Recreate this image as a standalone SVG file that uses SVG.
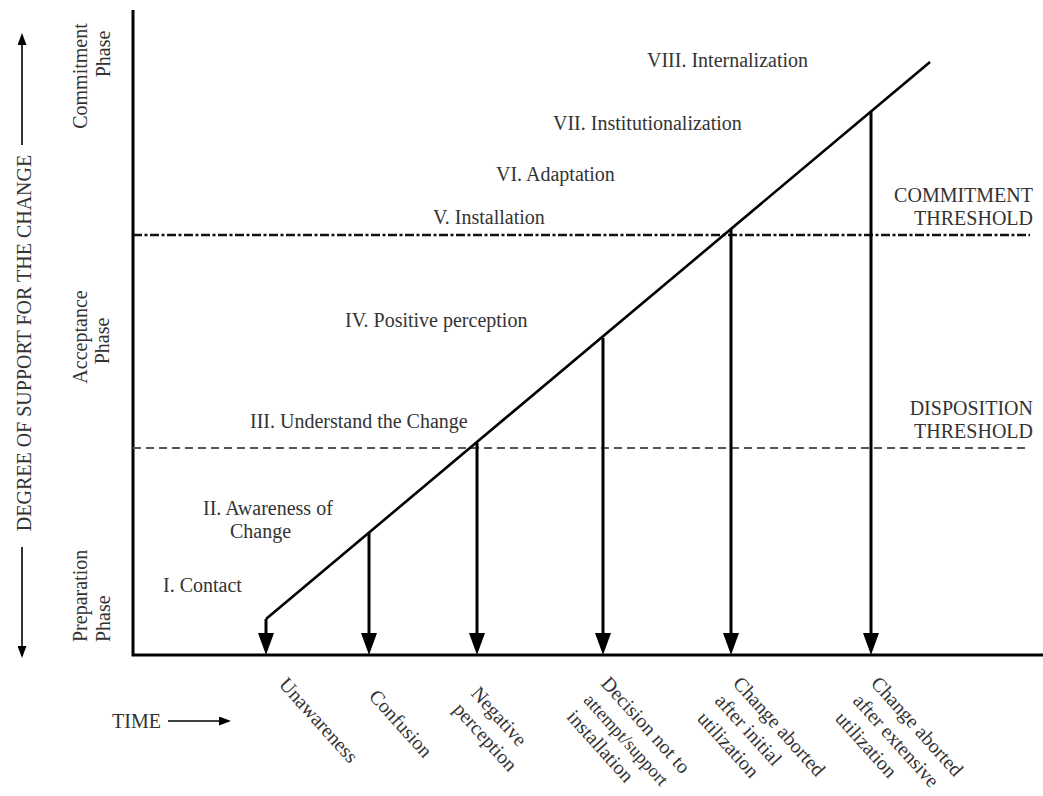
<svg xmlns="http://www.w3.org/2000/svg" width="1043" height="796" viewBox="0 0 1043 796">
  <defs>
    <style>
      text { font-family: "Liberation Serif", "Times New Roman", serif; font-size: 20px; fill: #333; }
      .axis { stroke: #000; stroke-width: 3; fill: none; }
      .drop { stroke: #000; stroke-width: 3; fill: none; marker-end: url(#head); }
      .path { stroke: #000; stroke-width: 2.6; fill: none; stroke-linejoin: round; }
      .thin-arrow { stroke: #000; stroke-width: 1.6; fill: none; marker-end: url(#small); }
      .commit { stroke: #111; stroke-width: 2.4; stroke-dasharray: 9 2.5 3 2.5; fill: none; }
      .dispo { stroke: #555; stroke-width: 2; stroke-dasharray: 8 5; fill: none; }
    </style>
    <marker id="head" markerUnits="userSpaceOnUse" markerWidth="22" markerHeight="16" viewBox="0 0 22 16" refX="12" refY="8" orient="auto">
      <path d="M0,0 L22,8 L0,16 Z" fill="#000"/>
    </marker>
    <marker id="small" markerUnits="userSpaceOnUse" markerWidth="12" markerHeight="9" viewBox="0 0 12 9" refX="10" refY="4.5" orient="auto">
      <path d="M0,0 L12,4.5 L0,9 Z" fill="#000"/>
    </marker>
  </defs>

  <rect width="1043" height="796" fill="#fff"/>

  <!-- axes -->
  <g id="axes">
    <path class="axis" d="M133,10 V656.5 M131.5,655 H1043"/>
    <text transform="translate(31,343) rotate(-90)" text-anchor="middle">DEGREE OF SUPPORT FOR THE CHANGE</text>
    <path class="thin-arrow" d="M22,145 V35"/>
    <path class="thin-arrow" d="M22,547 V656"/>
    <text x="112" y="728" font-size="17">TIME</text>
    <path class="thin-arrow" d="M168,721 H229"/>
  </g>

  <!-- phase bands on the vertical axis -->
  <g id="phase-commitment">
    <text transform="translate(87,76) rotate(-90)" text-anchor="middle">Commitment</text>
    <text transform="translate(110,54) rotate(-90)" text-anchor="middle">Phase</text>
  </g>
  <g id="phase-acceptance">
    <text transform="translate(87,337) rotate(-90)" text-anchor="middle">Acceptance</text>
    <text transform="translate(109,341) rotate(-90)" text-anchor="middle">Phase</text>
  </g>
  <g id="phase-preparation">
    <text transform="translate(87,642) rotate(-90)">Preparation</text>
    <text transform="translate(110,642) rotate(-90)">Phase</text>
  </g>

  <!-- thresholds -->
  <g id="commitment-threshold">
    <path class="commit" d="M133,235 H1030"/>
    <text x="1033" y="202" text-anchor="end">COMMITMENT</text>
    <text x="1033" y="225" text-anchor="end">THRESHOLD</text>
  </g>
  <g id="disposition-threshold">
    <path class="dispo" d="M133,448 H1030"/>
    <text x="1033" y="415" text-anchor="end">DISPOSITION</text>
    <text x="1033" y="438" text-anchor="end">THRESHOLD</text>
  </g>

  <!-- stages along the rising path -->
  <g id="stage-1"><text x="163" y="592">I. Contact</text></g>
  <g id="stage-2">
    <text x="203" y="515">II. Awareness of</text>
    <text x="230" y="538">Change</text>
  </g>
  <g id="stage-3"><text x="250" y="428">III. Understand the Change</text></g>
  <g id="stage-4"><text x="345" y="327">IV. Positive perception</text></g>
  <g id="stage-5"><text x="433" y="224">V. Installation</text></g>
  <g id="stage-6"><text x="496" y="181">VI. Adaptation</text></g>
  <g id="stage-7"><text x="553" y="130">VII. Institutionalization</text></g>
  <g id="stage-8"><text x="647" y="67">VIII. Internalization</text></g>

  <!-- outcomes below the time axis -->
  <g id="outcome-unawareness">
    <text transform="translate(278,685) rotate(48)">Unawareness</text>
  </g>
  <g id="outcome-confusion">
    <text transform="translate(368,697) rotate(48)">Confusion</text>
  </g>
  <g id="outcome-negative">
    <text transform="translate(470,694) rotate(48)"><tspan x="0" y="0">Negative</tspan><tspan x="0" y="24">perception</tspan></text>
  </g>
  <g id="outcome-decision">
    <text transform="translate(600,684) rotate(48)"><tspan x="0" y="0">Decision not to</tspan><tspan x="1" y="24" font-size="18.5">attempt/support</tspan><tspan x="2" y="48">installation</tspan></text>
  </g>
  <g id="outcome-aborted-initial">
    <text transform="translate(732,684) rotate(48)"><tspan x="0" y="0">Change aborted</tspan><tspan x="1" y="25">after initial</tspan><tspan x="2" y="50">utilization</tspan></text>
  </g>
  <g id="outcome-aborted-extensive">
    <text transform="translate(870,684) rotate(48)"><tspan x="0" y="0">Change aborted</tspan><tspan x="1" y="25">after extensive</tspan><tspan x="2" y="50">utilization</tspan></text>
  </g>

  <!-- connectors: the rising support path and the drop-outs to the time axis -->
  <g id="connectors">
    <path class="path" d="M266,619 L930,62"/>
    <path class="drop" d="M266,619 V645"/>
    <path class="drop" d="M369,533 V645"/>
    <path class="drop" d="M477,443 V645"/>
    <path class="drop" d="M603,338 V645"/>
    <path class="drop" d="M731,229 V645"/>
    <path class="drop" d="M871,111 V645"/>
  </g>
</svg>
